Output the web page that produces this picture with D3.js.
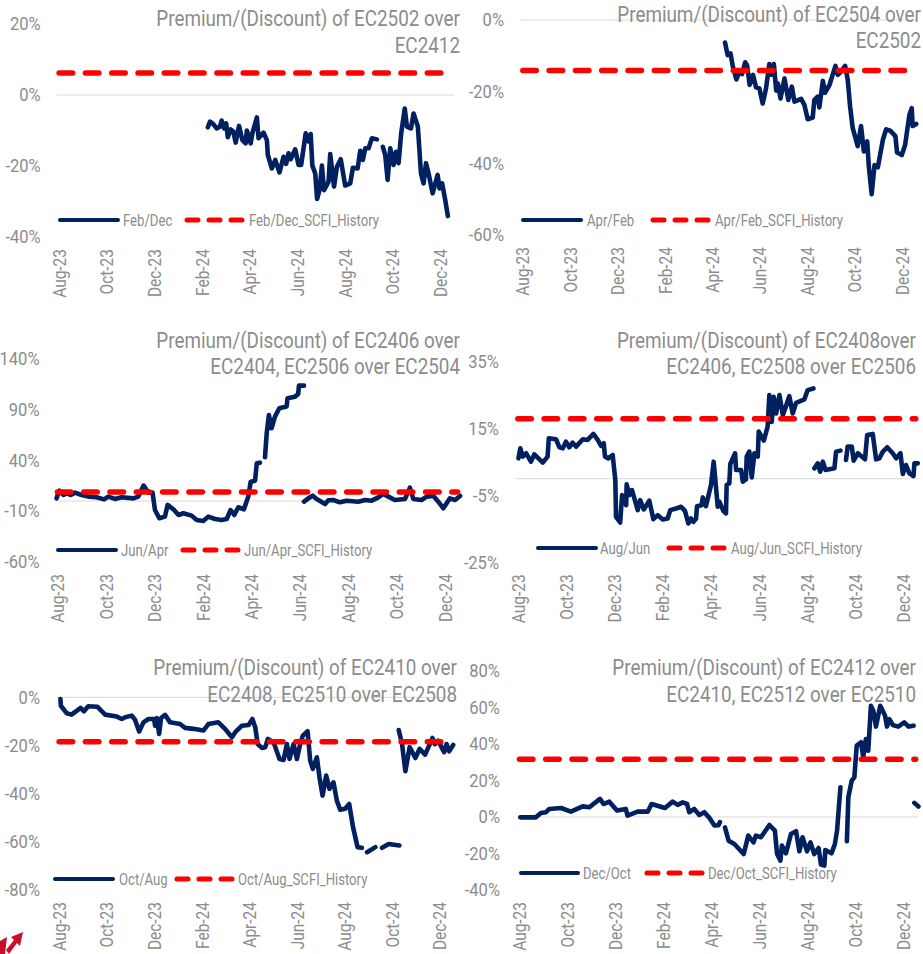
<!DOCTYPE html>
<html lang="en">
<head>
    <meta charset="UTF-8">
    <script src="https://d3js.org/d3.v7.min.js"></script>
    <title>EC spreads</title>
    <style>
        html, body { margin: 0; padding: 0; background: #fff; }
        svg { display: block; }
        text { font-family: "Roboto", sans-serif; fill: #8c8c8c; }
    </style>
</head>
<body>
    <svg id="chart"></svg>
    <script>
        // x values are months since Aug-23, y values are percent, null = gap in the line
        const monthTicks = [0, 2, 4, 6, 8, 10, 12, 14, 16];
        const monthLabels = ["Aug-23", "Oct-23", "Dec-23", "Feb-24", "Apr-24", "Jun-24", "Aug-24", "Oct-24", "Dec-24"];

        const febDec = [[6.25,-9.1],[6.34,-7.5],[6.48,-8.2],[6.62,-9.4],[6.76,-8.9],[6.83,-7.2],[6.93,-9.4],[7.02,-8],[7.09,-11.9],[7.21,-9.7],[7.32,-10.3],[7.42,-13.4],[7.56,-8.7],[7.7,-12.7],[7.84,-13.6],[7.89,-10],[8.05,-13.6],[8.12,-10.8],[8.31,-6.3],[8.38,-12.2],[8.59,-10.6],[8.73,-12.7],[8.77,-16.9],[8.94,-20.7],[9.08,-18.3],[9.26,-21.8],[9.43,-17.4],[9.54,-19.4],[9.64,-16.4],[9.73,-18.1],[9.92,-15.3],[10.06,-19.7],[10.17,-19.7],[10.36,-10.8],[10.48,-13.1],[10.57,-11],[10.64,-19.9],[10.76,-22.1],[10.84,-29.3],[10.94,-26.8],[11.04,-19.9],[11.13,-26.8],[11.32,-24.4],[11.39,-16.6],[11.55,-25.8],[11.67,-20.2],[11.83,-18.1],[12.02,-25.5],[12.23,-24.9],[12.34,-20.5],[12.54,-20.7],[12.65,-15.7],[12.76,-18.3],[12.86,-15],[13,-15],[13.14,-12.2],[13.35,-12.5],null,[13.6,-14.6],[13.7,-16.9],[13.8,-23.9],[13.91,-15],[14.05,-19.7],[14.15,-16],[14.26,-19.2],[14.37,-10.8],[14.52,-3.8],[14.61,-8.9],[14.78,-9.4],[14.89,-5.2],[15.07,-8.9],[15.2,-22.1],[15.31,-24.9],[15.41,-19.2],[15.52,-22.1],[15.69,-27.7],[15.9,-22.5],[15.98,-26.3],[16.09,-24.9],[16.22,-29.6],[16.33,-34.1]];
        const aprFeb = [[8.54,-6.3],[8.65,-9.8],[8.77,-9.3],[8.87,-13],[9.02,-16.6],[9.15,-14.4],[9.26,-15.1],[9.39,-11.8],[9.47,-12.6],[9.58,-18.1],[9.72,-15.3],[9.85,-18.8],[9.99,-19.1],[10.13,-23.3],[10.27,-19.1],[10.41,-12.3],[10.51,-15.3],[10.6,-12.3],[10.7,-19.7],[10.77,-17.7],[10.88,-21.9],[11.05,-16.3],[11.21,-22.3],[11.36,-18.6],[11.47,-22.8],[11.75,-22],[11.89,-23.7],[12.03,-27.7],[12.24,-27.2],[12.31,-22.3],[12.45,-21.4],[12.52,-24.4],[12.67,-17],[12.76,-20.3],[12.95,-18.1],[13.2,-12.8],[13.3,-15.3],[13.44,-14.4],[13.61,-12.8],[13.72,-16.7],[13.82,-24.2],[13.93,-30.2],[14.14,-35.2],[14.28,-29.6],[14.4,-36.7],[14.54,-33.9],[14.61,-40.9],[14.73,-48.6],[14.85,-40.5],[14.99,-41.1],[15.2,-33.5],[15.34,-30.5],[15.51,-30.9],[15.73,-32.4],[15.8,-37],[16,-37.7],[16.14,-34.9],[16.32,-26.5],[16.42,-24.6],[16.46,-29.6],[16.61,-29]];
        const junApr = [[-0.03,2.6],[0.08,10.2],[0.25,5.9],[0.38,7.5],[0.55,5.9],[0.73,8.2],[1,5.9],[1.28,4.3],[1.62,3.6],[1.93,1.6],[2.1,4.3],[2.38,2],[2.65,3.6],[3.14,2.6],[3.34,4.3],[3.56,15.1],[3.76,8.2],[3.93,8.2],[4.03,-8.9],[4.21,-17],[4.44,-15.4],[4.55,-3.9],[4.79,-8.2],[5,-13.8],[5.2,-12.1],[5.54,-14.4],[5.75,-18.7],[6.02,-19.7],[6.23,-15.4],[6.51,-17.7],[6.78,-18.7],[6.99,-17.7],[7.15,-8.9],[7.3,-13.8],[7.47,-6.2],[7.7,-8.2],[7.88,4.3],[7.98,19],[8.16,20],[8.23,37],[8.36,37.7],null,[8.57,43],[8.64,66.6],[8.73,84.6],[8.84,71.5],[8.98,83],[9.16,91.1],[9.46,92.8],[9.5,101],[9.81,102.6],[9.94,105.2],[9.97,113.4],[10.18,113.4],null,[10.18,-0.7],[10.36,2.6],[10.54,5.2],[10.7,2],[11.05,-3],[11.18,0.7],[11.39,1],[11.66,-1.3],[11.94,0.3],[12.42,-0.7],[12.7,1],[12.97,0.3],[13.25,3.6],[13.45,6.9],[13.66,4.3],[13.93,1],[14.35,2],[14.55,13.1],[14.69,2],[15.03,1],[15.24,4.3],[15.52,4.9],[15.72,-0.7],[15.93,-7.2],[16.2,2.6],[16.41,1],[16.62,4.9]];
        const augJun = [[0.03,6.1],[0.11,9.1],[0.21,6.6],[0.35,7.6],[0.55,5.1],[0.69,7.3],[1.04,4.8],[1.24,6.6],[1.29,12.1],[1.59,11.8],[1.73,9.4],[1.87,9.1],[2,11.1],[2.14,9.4],[2.28,10.8],[2.42,9.6],[2.7,11.8],[2.9,11.6],[3.14,13.4],[3.32,11.6],[3.46,9.8],[3.57,10.6],[3.62,6.6],[3.76,6.1],[3.94,7.1],[4.05,-0.4],[4.08,-11.4],[4.25,-13.1],[4.33,-4.9],[4.5,-7.9],[4.52,-1.7],[4.63,-4.9],[4.74,-3.4],[4.84,-5.9],[4.98,-9.4],[5.08,-6.4],[5.23,-9.2],[5.46,-6.6],[5.63,-12.1],[5.81,-10.9],[6.02,-12.2],[6.22,-11.9],[6.33,-9.4],[6.57,-8.9],[6.78,-8.4],[6.94,-9.6],[7.08,-13.4],[7.19,-11.9],[7.29,-12.9],[7.4,-11.9],[7.44,-8.2],[7.63,-7.9],[7.68,-5.6],[7.81,-8.2],[8.02,-1.9],[8.13,5.1],[8.3,-8.4],[8.37,-6.9],[8.53,-9.6],[8.64,-10.4],[8.67,-1.9],[8.78,-1.4],[8.82,4.4],[9.02,7.6],[9.06,2.6],[9.27,2.6],[9.34,-0.9],[9.47,-0.2],[9.5,6.6],[9.61,8.1],[9.71,0.4],[9.82,7.6],[9.96,6.6],[10,14.1],[10.21,11.4],[10.37,15.6],[10.44,25],[10.54,17],[10.62,24.5],[10.72,19.5],[10.86,25],[11,19],[11.27,24.7],[11.41,19.5],[11.55,22.7],[11.89,23.7],[12.03,26.5],[12.27,27],null,[12.31,3.1],[12.45,4.6],[12.55,2.1],[12.66,5.1],[12.77,2.6],[13.14,3.1],[13.21,8.1],[13.39,8.4],null,[13.62,5.6],[13.69,9.6],[13.86,9.6],[13.94,5.4],[14.11,7.6],[14.41,5.8],[14.5,13.1],[14.73,13.4],[14.87,5.8],[15.01,6.1],[15.15,8.1],[15.33,9.4],[15.56,7.6],[15.7,6.1],[15.88,7.6],[15.98,1.4],[16.11,4.1],[16.25,1.6],[16.42,0.8],[16.46,4.6],[16.6,4.6]];
        const octAug = [[0.06,-0.7],[0.08,-3.5],[0.32,-6.6],[0.53,-7.2],[0.91,-4.4],[1.05,-5.8],[1.23,-3.7],[1.61,-3.9],[1.94,-7.2],[2.43,-8],[2.64,-9],[2.78,-8.3],[3.06,-7.6],[3.2,-9.4],[3.37,-14.2],[3.55,-10.4],[3.76,-9],[4,-9],[4.04,-11.8],[4.11,-8.6],[4.21,-15.2],[4.29,-8.6],[4.46,-7.3],[4.67,-10.4],[5.09,-11.1],[5.3,-12.7],[5.65,-13.1],[6.07,-13.8],[6.28,-11.1],[6.7,-10.4],[6.98,-13.1],[7.27,-16.6],[7.41,-14.5],[7.69,-11.8],[7.97,-11.5],[8.13,-9],[8.25,-12.4],[8.35,-19.4],[8.53,-21],[8.67,-20.7],[8.78,-17.3],[9.02,-18.7],[9.27,-25.6],[9.44,-26],[9.58,-19.4],[9.69,-25.6],[9.86,-19.4],[10,-25.6],[10.14,-19.4],[10.25,-15.9],[10.45,-14.1],[10.56,-26.3],[10.67,-29.7],[10.84,-24.9],[10.95,-33.2],[11.08,-40.8],[11.23,-32.5],[11.37,-38],[11.54,-35.3],[11.68,-42.9],[11.82,-46.7],[12.03,-46.3],[12.2,-44.3],[12.36,-53.9],[12.55,-62.2],[12.73,-62.5],null,[12.95,-64.3],[13.3,-62.2],null,[13.58,-62.5],[13.86,-60.9],[14.31,-61.5],null,[14.28,-13.6],[14.42,-19.4],[14.56,-30.7],[14.74,-20.7],[14.98,-25.2],[15.16,-21.4],[15.39,-23.8],[15.7,-16.9],[15.8,-19.4],[15.94,-18],[16.19,-22.8],[16.29,-19.4],[16.4,-22.4],[16.57,-19.8]];
        const decOct = [[0.04,-0.2],[0.69,-0.2],[0.9,2.2],[1.11,2.6],[1.25,4.4],[1.74,4.9],[2.15,2.9],[2.64,5.8],[2.92,5.3],[3.36,9.9],[3.51,7.1],[3.75,8.4],[4.07,3.5],[4.44,4.4],[4.51,0.7],[4.93,2.9],[5.35,2.9],[5.51,7.1],[6.07,4.9],[6.39,8.4],[6.6,6.6],[6.81,8],[6.99,7.1],[7.08,2.6],[7.29,4.4],[7.5,1.1],[7.71,2.6],[7.92,-0.5],[8.13,-4.7],[8.3,-4.5],[8.36,-2.8],null,[8.57,-5.7],[8.72,-13],[8.96,-14.8],[9.35,-20.3],[9.54,-10.2],[9.76,-13.9],[9.86,-10.2],[10.07,-11.1],[10.42,-4.4],[10.65,-7.5],[10.74,-20.3],[10.88,-23.9],[10.94,-15.7],[11.11,-19.9],[11.32,-9.3],[11.53,-7.8],[11.67,-18.8],[11.8,-11.1],[11.99,-18.8],[12.13,-13.9],[12.29,-20.3],[12.47,-17],[12.57,-26.1],[12.71,-26.6],[12.75,-18.1],[13.01,-19.9],[13.15,-14.8],[13.24,-7.5],[13.38,16.2],null,[13.65,-13.3],[13.71,10.8],[13.85,19.9],[13.96,21.7],[14.06,39.1],[14.24,40.9],[14.33,32.7],[14.44,42.7],[14.54,36.3],[14.65,60.9],[14.75,58.2],[14.86,49.5],[15.04,60.9],[15.14,58.2],[15.24,55.5],[15.32,49.5],[15.42,53.6],[15.56,50.4],[15.79,49.5],[16.04,51.8],[16.22,49.5],[16.43,50],null,[16.46,7.7],[16.63,5.7]];

        const seriesList = [febDec, aprFeb, junApr, augJun, octAug, decOct];
        const seriesNames = ["Feb/Dec", "Apr/Feb", "Jun/Apr", "Aug/Jun", "Oct/Aug", "Dec/Oct"];
        const scfiLevels = [6.2, -14.1, 8.9, 17.9, -18.5, 31.6];
        const yTickLists = [
            [20, 0, -20, -40],
            [0, -20, -40, -60],
            [140, 90, 40, -10, -60],
            [35, 15, -5, -25],
            [0, -20, -40, -60, -80],
            [80, 60, 40, 20, 0, -20, -40]
        ];
        const titles = [
            ["Premium/(Discount) of EC2502 over", "EC2412"],
            ["Premium/(Discount) of EC2504 over", "EC2502"],
            ["Premium/(Discount) of EC2406 over", "EC2404, EC2506 over EC2504"],
            ["Premium/(Discount) of EC2408over", "EC2406, EC2508 over EC2506"],
            ["Premium/(Discount) of EC2410 over", "EC2408, EC2510 over EC2508"],
            ["Premium/(Discount) of EC2412 over", "EC2410, EC2512 over EC2510"]
        ];

        // layout of each small chart, in page pixels
        const layouts = [
            {x: [56.6, 454.3], y: [24, 237], labelX: 40.7, titleX: 460, titleY: [26, 53], legendY: 220, legend: [60, 118, 123, 185, 244, 249]},
            {x: [520.3, 916], y: [20, 235], labelX: 504, titleX: 921, titleY: [22, 48], legendY: 220, legend: [523, 581, 587, 651, 709, 715]},
            {x: [54.9, 459.6], y: [358.6, 562], labelX: 39.5, titleX: 460, titleY: [348, 374], legendY: 550, legend: [58, 116, 121, 181, 239, 244]},
            {x: [515.3, 917.8], y: [361.7, 562.3], labelX: 499, titleX: 916, titleY: [348, 374], legendY: 548, legend: [538, 596, 600, 667, 725, 731]},
            {x: [56.6, 453.9], y: [697.3, 890], labelX: 40, titleX: 457, titleY: [675, 702], legendY: 879, legend: [55, 113, 119, 175, 233, 238]},
            {x: [516.9, 917.7], y: [670.9, 890], labelX: 500, titleX: 916, titleY: [675, 702], legendY: 873, legend: [521, 578, 583, 645, 703, 708]}
        ];

        const navy = "#002060";
        const red = "#ff0000";
        const svg = d3.select("#chart").attr("width", 923).attr("height", 954);

        // the reference font is a condensed one, squeeze Roboto to the same widths
        function condense(sel, k) {
            sel.each(function() {
                const t = d3.select(this);
                const x = +t.attr("x") || 0;
                const y = +t.attr("y") || 0;
                const prev = t.attr("transform") || "";
                t.attr("transform", `${prev} translate(${x},${y}) scale(${k},1) translate(${-x},${-y})`);
            });
        }

        seriesList.forEach((series, i) => {
            const lay = layouts[i];
            const ticks = yTickLists[i];
            const g = svg.append("g");
            const xscale = d3.scaleLinear().domain([-0.1, 16.6]).range(lay.x);
            const yscale = d3.scaleLinear().domain(d3.extent(ticks).reverse()).range(lay.y);

            // zero line
            g.append("line")
                .attr("x1", lay.x[0]).attr("x2", lay.x[1])
                .attr("y1", yscale(0)).attr("y2", yscale(0))
                .attr("stroke", "#d9d9d9").attr("stroke-width", 1);

            const yaxis = d3.axisLeft(yscale).tickValues(ticks).tickSize(0)
                .tickPadding(lay.x[0] - lay.labelX).tickFormat(d => d + "%");
            g.append("g").attr("transform", `translate(${lay.x[0]},0)`)
                .call(yaxis)
                .call(a => a.select(".domain").remove())
                .call(a => a.selectAll("text").attr("font-size", 18).attr("font-family", null).call(condense, 0.92));

            const xaxis = d3.axisBottom(xscale).tickValues(monthTicks).tickSize(0)
                .tickFormat((d, k) => monthLabels[k]);
            g.append("g").attr("transform", `translate(0,${lay.y[1]})`)
                .call(xaxis)
                .call(a => a.select(".domain").remove())
                .call(a => a.selectAll("text")
                    .attr("font-size", 18).attr("font-family", null)
                    .attr("text-anchor", "end").attr("dy", "0.35em")
                    .attr("x", 0).attr("y", 0)
                    .attr("transform", "translate(0,12) rotate(-90)")
                    .call(condense, 0.86));

            const line = d3.line().defined(d => d).x(d => xscale(d[0])).y(d => yscale(d[1]));
            g.append("path").attr("d", line(series))
                .attr("fill", "none").attr("stroke", navy).attr("stroke-width", 4.6)
                .attr("stroke-linejoin", "round").attr("stroke-linecap", "round");

            g.append("line")
                .attr("x1", lay.x[0] + 2.5).attr("x2", lay.x[1] - 2)
                .attr("y1", yscale(scfiLevels[i])).attr("y2", yscale(scfiLevels[i]))
                .attr("stroke", red).attr("stroke-width", 5.5)
                .attr("stroke-dasharray", "13.5,12.8").attr("stroke-linecap", "round");

            titles[i].forEach((t, k) => {
                g.append("text").attr("x", lay.titleX).attr("y", lay.titleY[k])
                    .attr("text-anchor", "end").attr("font-size", 22).text(t).call(condense, 0.857);
            });

            // legend
            const lg = lay.legend;
            g.append("line").attr("x1", lg[0]).attr("x2", lg[1]).attr("y1", lay.legendY).attr("y2", lay.legendY)
                .attr("stroke", navy).attr("stroke-width", 4).attr("stroke-linecap", "round");
            g.append("text").attr("x", lg[2]).attr("y", lay.legendY).attr("dy", "0.35em")
                .attr("font-size", 16).text(seriesNames[i]).call(condense, 0.82);
            g.append("line").attr("x1", lg[3] + 2).attr("x2", lg[4]).attr("y1", lay.legendY).attr("y2", lay.legendY)
                .attr("stroke", red).attr("stroke-width", 5)
                .attr("stroke-dasharray", "11,11").attr("stroke-linecap", "round");
            g.append("text").attr("x", lg[5]).attr("y", lay.legendY).attr("dy", "0.35em")
                .attr("font-size", 16).text(seriesNames[i] + "_SCFI_History").call(condense, 0.82);
        });

        // corner of the logo
        svg.append("path").attr("fill", "#c8102e")
            .attr("d", "M23,932L11,937L14,940L6,950L9,954L17,943L20,946ZM0,941L7,937L5,954L0,954Z");
    </script>
</body>
</html>
